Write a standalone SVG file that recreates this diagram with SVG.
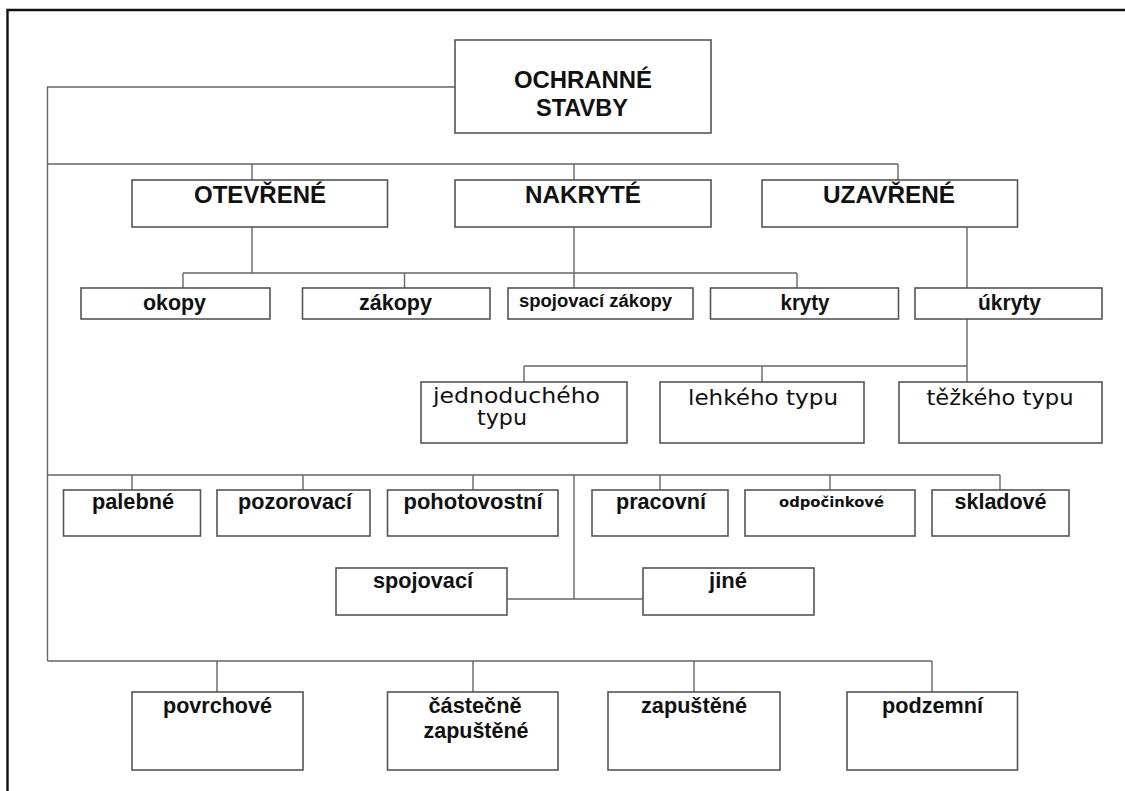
<svg xmlns="http://www.w3.org/2000/svg" width="1125" height="791" viewBox="0 0 1125 791">
<style>
.bx{fill:#fff;stroke:#555;stroke-width:1.6}
.cn{fill:none;stroke:#666;stroke-width:1.4}
.fr{fill:none;stroke:#111;stroke-width:2.4}
text{font-family:"Liberation Sans",Arial,sans-serif;font-weight:bold;fill:#111;text-anchor:middle}
.t1{font-size:24px}
.t2{font-size:21.5px}
.t3{font-family:"DejaVu Sans",sans-serif;font-weight:normal;font-size:21px}
</style>
<rect width="1125" height="791" fill="#fff"/>
<path class="fr" d="M7.5,791 V10 H1125"/>
<g id="connectors">
<path class="cn" d="M455,87 H47.5 V661"/>
<path class="cn" d="M47.5,164 H898 M252,164 V180 M574,164 V180 M898,164 V180"/>
<path class="cn" d="M252,227 V273 M183,273 H797 M183,273 V288 M404.5,273 V288 M574,227 V288 M797,273 V288"/>
<path class="cn" d="M967,227 V288 M967,319 V382 M524,366 H967 M524,366 V382 M762,366 V382"/>
<path class="cn" d="M47.5,475 H1000 M132,475 V490 M303,475 V490 M473,475 V490 M660,475 V490 M830,475 V490 M1000,475 V490 M574,475 V599 M507,599 H643"/>
<path class="cn" d="M47.5,661 H932 M217,661 V692 M473,661 V692 M694,661 V692 M932,661 V692"/>
</g>
<g id="n-ochranne"><rect class="bx" x="455" y="40" width="256" height="93"/><text class="t1" x="583" y="88" textLength="138" lengthAdjust="spacingAndGlyphs">OCHRANNÉ</text><text class="t1" x="582" y="116" textLength="92" lengthAdjust="spacingAndGlyphs">STAVBY</text></g>
<g id="n-otevrene"><rect class="bx" x="132" y="180" width="255.5" height="47"/><text class="t1" x="260" y="203" textLength="132" lengthAdjust="spacingAndGlyphs">OTEVŘENÉ</text></g>
<g id="n-nakryte"><rect class="bx" x="455" y="180" width="256" height="47"/><text class="t1" x="583" y="203" textLength="116" lengthAdjust="spacingAndGlyphs">NAKRYTÉ</text></g>
<g id="n-uzavrene"><rect class="bx" x="762" y="180" width="255.5" height="47"/><text class="t1" x="889" y="203" textLength="132" lengthAdjust="spacingAndGlyphs">UZAVŘENÉ</text></g>
<g id="n-okopy"><rect class="bx" x="81" y="288" width="189" height="31"/><text class="t2" x="174.5" y="310" textLength="63" lengthAdjust="spacingAndGlyphs">okopy</text></g>
<g id="n-zakopy"><rect class="bx" x="302.5" y="288" width="187.5" height="31"/><text class="t2" x="395.5" y="310" textLength="73" lengthAdjust="spacingAndGlyphs">zákopy</text></g>
<g id="n-spojzak"><rect class="bx" x="508" y="288" width="185" height="31"/><text style="font-size:18px" x="595.5" y="307" textLength="153" lengthAdjust="spacingAndGlyphs">spojovací zákopy</text></g>
<g id="n-kryty"><rect class="bx" x="710.5" y="288" width="188" height="31"/><text class="t2" x="805" y="310" textLength="49" lengthAdjust="spacingAndGlyphs">kryty</text></g>
<g id="n-ukryty"><rect class="bx" x="915" y="288" width="187" height="31"/><text class="t2" x="1009.5" y="310" textLength="63" lengthAdjust="spacingAndGlyphs">úkryty</text></g>
<g id="n-jednoduch"><rect class="bx" x="421" y="382" width="206" height="61"/><text class="t3" x="516.5" y="403" textLength="167" lengthAdjust="spacingAndGlyphs">jednoduchého</text><text class="t3" x="502" y="425" textLength="50" lengthAdjust="spacingAndGlyphs">typu</text></g>
<g id="n-lehky"><rect class="bx" x="660" y="382" width="204" height="61"/><text class="t3" x="763" y="405" textLength="150" lengthAdjust="spacingAndGlyphs">lehkého typu</text></g>
<g id="n-tezky"><rect class="bx" x="899" y="382" width="203" height="61"/><text class="t3" x="1000" y="405" textLength="147" lengthAdjust="spacingAndGlyphs">těžkého typu</text></g>
<g id="n-palebne"><rect class="bx" x="63.5" y="490" width="137" height="46"/><text class="t2" x="133" y="509" textLength="82" lengthAdjust="spacingAndGlyphs">palebné</text></g>
<g id="n-pozorovaci"><rect class="bx" x="217" y="490" width="153" height="46"/><text class="t2" x="295" y="509" textLength="114" lengthAdjust="spacingAndGlyphs">pozorovací</text></g>
<g id="n-pohotov"><rect class="bx" x="387.5" y="490" width="170.5" height="46"/><text class="t2" x="473" y="509" textLength="139" lengthAdjust="spacingAndGlyphs">pohotovostní</text></g>
<g id="n-pracovni"><rect class="bx" x="592" y="490" width="136" height="46"/><text class="t2" x="661" y="509" textLength="90" lengthAdjust="spacingAndGlyphs">pracovní</text></g>
<g id="n-odpocink"><rect class="bx" x="745" y="490" width="170" height="46"/><text style="font-family:'DejaVu Sans',sans-serif;font-size:13.5px" x="831.5" y="507" textLength="105" lengthAdjust="spacingAndGlyphs">odpočinkové</text></g>
<g id="n-skladove"><rect class="bx" x="932" y="490" width="137" height="46"/><text class="t2" x="1000.5" y="509" textLength="92" lengthAdjust="spacingAndGlyphs">skladové</text></g>
<g id="n-spojovaci"><rect class="bx" x="336" y="568" width="171" height="47"/><text class="t2" x="423" y="588" textLength="100" lengthAdjust="spacingAndGlyphs">spojovací</text></g>
<g id="n-jine"><rect class="bx" x="643" y="568" width="171" height="47"/><text class="t2" x="728" y="588" textLength="38" lengthAdjust="spacingAndGlyphs">jiné</text></g>
<g id="n-povrchove"><rect class="bx" x="132" y="692" width="171" height="78"/><text class="t2" x="217.5" y="713" textLength="109" lengthAdjust="spacingAndGlyphs">povrchové</text></g>
<g id="n-castecne"><rect class="bx" x="387.5" y="692" width="170.5" height="78"/><text class="t2" x="475" y="713" textLength="93" lengthAdjust="spacingAndGlyphs">částečně</text><text class="t2" x="476" y="738" textLength="105" lengthAdjust="spacingAndGlyphs">zapuštěné</text></g>
<g id="n-zapustene"><rect class="bx" x="608" y="692" width="172" height="78"/><text class="t2" x="694" y="713" textLength="106" lengthAdjust="spacingAndGlyphs">zapuštěné</text></g>
<g id="n-podzemni"><rect class="bx" x="847" y="692" width="170.5" height="78"/><text class="t2" x="932.5" y="713" textLength="101" lengthAdjust="spacingAndGlyphs">podzemní</text></g>
</svg>
